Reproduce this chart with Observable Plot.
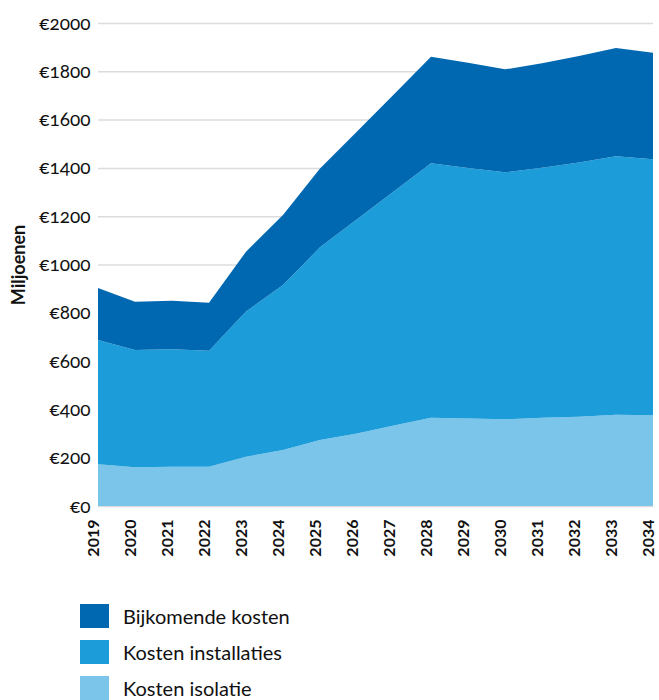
<!DOCTYPE html>
<html>
<head>
<meta charset="utf-8">
<script src="https://cdn.jsdelivr.net/npm/d3@7"></script>
<script src="https://cdn.jsdelivr.net/npm/@observablehq/plot@0.6"></script>
<style>
  html, body { margin: 0; padding: 0; background: #fff; }
  body { width: 659px; height: 700px; overflow: hidden; position: relative; font-family: Lato, "Open Sans", sans-serif; }
  #legend { position: absolute; left: 80px; top: 604px; }
  .row { display: flex; align-items: center; height: 24px; margin-bottom: 12px; }
  .sw { width: 29px; height: 24px; margin-right: 14px; }
  .lab { font-size: 20px; color: #111; line-height: 24px; }
  .ytick text { font-variant-numeric: oldstyle-nums; font-feature-settings: "onum" 1; }
</style>
</head>
<body>
<div id="chart"></div>
<div id="legend"></div>
<script>
const years = [2019,2020,2021,2022,2023,2024,2025,2026,2027,2028,2029,2030,2031,2032,2033,2034];
const isolatie     = [173,160,163,163,204,232,273,300,333,365,362,359,365,370,378,376];
const installaties = [514,486,486,480,601,683,798,887,970,1054,1038,1023,1036,1052,1070,1060];
const bijkomende   = [216,200,201,199,248,290,327,364,402,441,435,426,432,441,448,441];
const seriesNames  = ["Kosten isolatie","Kosten installaties","Bijkomende kosten"];
const seriesColors = ["#7bc4ea","#1c9dd9","#0068b1"];
const yTicks = [0,200,400,600,800,1000,1200,1400,1600,1800,2000];
const legendOrder = ["Bijkomende kosten","Kosten installaties","Kosten isolatie"];
const yLabel = "Miljoenen";

const valuesBySeries = [isolatie, installaties, bijkomende];
const data = [];
seriesNames.forEach((s, i) => {
  years.forEach((y, j) => data.push({year: y, series: s, value: valuesBySeries[i][j]}));
});

const chart = Plot.plot({
  width: 659,
  height: 580,
  marginTop: 23,
  marginBottom: 74,
  marginLeft: 98,
  marginRight: 6,
  style: {fontFamily: "Lato, 'Open Sans', sans-serif", fontSize: "18px", color: "#111"},
  x: {domain: [2019, 2034], ticks: years, tickFormat: d => String(d)},
  y: {domain: [0, 2000], ticks: yTicks},
  color: {domain: seriesNames, range: seriesColors},
  marks: [
    Plot.gridY(yTicks, {stroke: "#dcdcdc", strokeOpacity: 1, strokeWidth: 1.5}),
    Plot.areaY(data, {x: "year", y: "value", z: "series", fill: "series", order: seriesNames}),
    Plot.axisY({ticks: yTicks, tickSize: 0, tickPadding: 8, tickFormat: d => "€" + d,
      fontSize: 19, className: "ytick", label: null}),
    Plot.text([yLabel], {frameAnchor: "left", textAnchor: "middle", text: d => d, rotate: -90,
      dx: -79, fontWeight: "bold", fontSize: 18, fill: "#111"}),
    Plot.axisX({ticks: years, tickSize: 0, tickPadding: 13, tickRotate: -90, dx: -5,
      tickFormat: d => String(d), fontWeight: "bold", fontSize: 16, label: null})
  ]
});
document.getElementById("chart").appendChild(chart);

const legend = document.getElementById("legend");
legendOrder.forEach(name => {
  const row = document.createElement("div");
  row.className = "row";
  const sw = document.createElement("div");
  sw.className = "sw";
  sw.style.background = seriesColors[seriesNames.indexOf(name)];
  const lab = document.createElement("span");
  lab.className = "lab";
  lab.textContent = name;
  row.appendChild(sw); row.appendChild(lab);
  legend.appendChild(row);
});
</script>
</body>
</html>
